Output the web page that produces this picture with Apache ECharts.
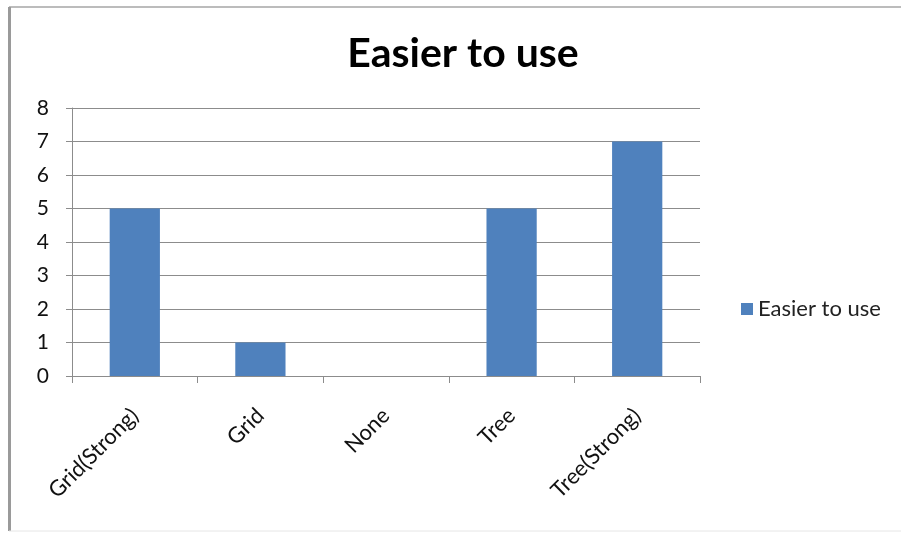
<!DOCTYPE html>
<html>
<head>
<meta charset="utf-8">
<script src="https://cdn.jsdelivr.net/npm/echarts@6/dist/echarts.min.js"></script>
<style>
  html, body { margin: 0; padding: 0; background: #fff; }
  #chart { width: 901px; height: 533px; }
</style>
</head>
<body>
<div id="chart"></div>
<script>
// Chart data
const categories = ['Grid(Strong)', 'Grid', 'None', 'Tree', 'Tree(Strong)'];
const easierValues = [5, 1, 0, 5, 7];
const seriesName = 'Easier to use';
const titleText = 'Easier to use';
const yTicks = { min: 0, max: 8, interval: 1 };

const FONT = 'Lato, "Open Sans", sans-serif';
const chart = echarts.init(document.getElementById('chart'), null, { renderer: 'canvas' });

chart.setOption({
  backgroundColor: '#ffffff',
  animation: false,
  title: {
    text: titleText,
    left: 458,
    textAlign: 'center',
    top: 28,
    textStyle: { fontFamily: FONT, fontSize: 41, fontWeight: 'bold', color: '#000' }
  },
  legend: {
    data: [seriesName],
    left: 736,
    top: 293,
    icon: 'rect',
    itemWidth: 12,
    itemHeight: 12,
    itemGap: 6,
    textStyle: { fontFamily: FONT, fontSize: 22, color: '#222' }
  },
  grid: { left: 72, right: 201, top: 108, bottom: 157, containLabel: false },
  xAxis: {
    type: 'category',
    data: categories,
    axisLine: { lineStyle: { color: '#8c8c8c', width: 1 } },
    axisTick: { show: true, length: 7, alignWithLabel: false, lineStyle: { color: '#8c8c8c' } },
    axisLabel: {
      rotate: 45,
      margin: 36,
      fontFamily: FONT,
      fontSize: 22,
      color: '#111'
    }
  },
  yAxis: {
    type: 'value',
    min: yTicks.min,
    max: yTicks.max,
    interval: yTicks.interval,
    axisLine: { show: true, lineStyle: { color: '#8c8c8c', width: 1 } },
    axisTick: { show: true, length: 6, inside: false, lineStyle: { color: '#8c8c8c' } },
    splitLine: { lineStyle: { color: '#8c8c8c', width: 1 } },
    axisLabel: { margin: 23, fontFamily: FONT, fontSize: 21, color: '#111' }
  },
  series: [{
    name: seriesName,
    type: 'bar',
    data: easierValues,
    barCategoryGap: '60%',
    itemStyle: { color: '#4f81bd' }
  }],
  graphic: [
    { type: 'line', shape: { x1: 9, y1: 7, x2: 901, y2: 7 }, style: { stroke: '#a6a6a6', lineWidth: 1.5 }, silent: true },
    { type: 'line', shape: { x1: 9.5, y1: 7, x2: 9.5, y2: 531 }, style: { stroke: '#9a9a9a', lineWidth: 3 }, silent: true },
    { type: 'line', shape: { x1: 9, y1: 531, x2: 901, y2: 531 }, style: { stroke: '#e6e6e6', lineWidth: 1 }, silent: true }
  ]
});
</script>
</body>
</html>
